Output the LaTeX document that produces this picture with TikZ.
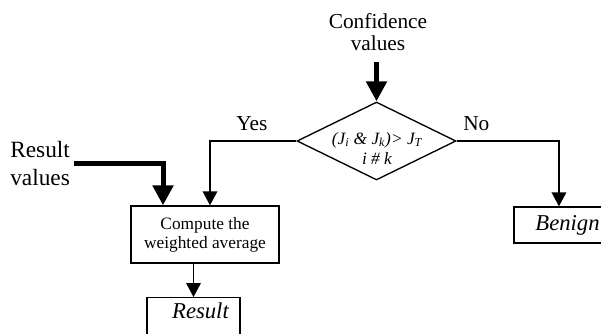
\documentclass[tikz,border=0pt]{standalone}
\usepackage{fontspec}
\setmainfont{Liberation Serif}
\usetikzlibrary{arrows.meta,shapes.geometric}
\tikzset{
  vek/.style={-{Triangle[length=10.5pt,width=11pt]},line width=1pt},
  vastag/.style={-{Triangle[length=15pt,width=15pt]},line width=3.75pt},
  doboz/.style={draw,line width=1pt,inner sep=0pt,align=center},
  romb/.style={diamond,draw,line width=1pt,inner sep=0pt,minimum width=119.25pt,minimum height=58.5pt},
  felirat/.style={inner sep=0pt,font=\fontsize{16}{16.5}\selectfont},
}
\begin{document}
\begin{tikzpicture}[x=0.75pt,y=-0.75pt]
  \useasboundingbox (0,0) rectangle (601,333);
  \clip (0,0) rectangle (601,333);
  \node[felirat,align=center] (conf) at (378,32.5) {Confidence\\values};
  \node[romb] (dont) at (376.5,141) {};
  \node[inner sep=0pt,align=center,font=\fontsize{13}{15}\selectfont\itshape] (feltetel) at (377,148)
    {(J\textsubscript{i} \& J\textsubscript{k})> J\textsubscript{T}\\i \# k};
  \node[felirat,anchor=base west] (igen) at (236,130) {Yes};
  \node[felirat,anchor=base west] (nem) at (463,130) {No};
  \node[felirat,align=left,anchor=west,font=\fontsize{17.5}{21}\selectfont] (rv) at (10,163.5) {Result\\values};
  \node[doboz,minimum width=111pt,minimum height=42.75pt,font=\fontsize{13}{14.25}\selectfont] (comp) at (205,234.5)
    {Compute the\\weighted average};
  \node[doboz,anchor=north,minimum width=69.75pt,inner ysep=2.25pt,text height=13.5pt,text depth=16.5pt,
    font=\fontsize{17}{17}\selectfont\itshape] (res) at (193.5,297) {\hspace*{10.5pt}Result};
  \node[doboz,minimum width=80.25pt,minimum height=27pt,font=\fontsize{17}{17}\selectfont\itshape] (ben) at (567.5,225) {Benign};
  \draw[vastag,shorten <=8pt] (dont.north |- conf.south) -- (dont.north);
  \draw[vek] (dont.west) -| ([xshift=3.75pt]comp.north);
  \draw[vek] (dont.east) -| ([xshift=-6.4pt]ben.north);
  \draw[vastag,shorten <=3pt] (rv.east) -| ([xshift=-31.5pt]comp.north);
  \draw[vek] (res.north |- comp.south) -- (res.north);
\end{tikzpicture}
\end{document}
